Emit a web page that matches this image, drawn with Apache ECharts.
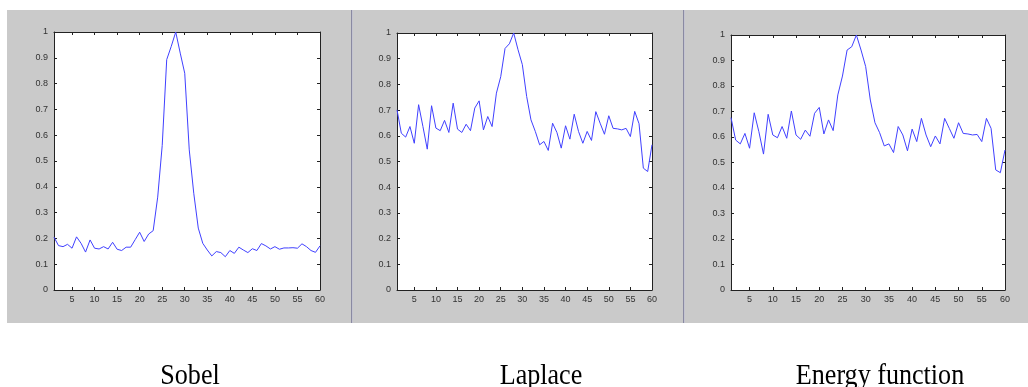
<!DOCTYPE html>
<html>
<head>
<meta charset="utf-8">
<script src="https://cdn.jsdelivr.net/npm/echarts@6/dist/echarts.min.js"></script>
<style>
html,body{margin:0;padding:0;background:#fff;}
#c{width:1028px;height:387px;}
</style>
</head>
<body>
<div id="c"></div>
<script>
var titles = ['Sobel', 'Laplace', 'Energy function'];
var xTicks = [5,10,15,20,25,30,35,40,45,50,55,60];
var sobel = [0.205,0.172,0.168,0.177,0.162,0.206,0.181,0.147,0.194,0.162,
  0.159,0.168,0.159,0.185,0.158,0.153,0.166,0.166,0.195,0.224,
  0.188,0.217,0.23,0.36,0.56,0.893,0.944,1.0,0.918,0.84,
  0.543,0.375,0.24,0.181,0.155,0.132,0.149,0.145,0.129,0.153,
  0.142,0.166,0.155,0.145,0.16,0.153,0.18,0.171,0.159,0.168,
  0.158,0.163,0.163,0.164,0.162,0.179,0.168,0.153,0.146,0.171];
var laplace = [0.701,0.61,0.595,0.636,0.571,0.721,0.636,0.548,0.717,0.63,
  0.62,0.66,0.613,0.727,0.626,0.613,0.645,0.62,0.708,0.736,
  0.623,0.675,0.636,0.766,0.83,0.94,0.958,1.0,0.935,0.877,
  0.753,0.662,0.617,0.565,0.578,0.543,0.649,0.613,0.552,0.639,
  0.587,0.684,0.617,0.571,0.617,0.582,0.694,0.649,0.606,0.678,
  0.629,0.627,0.623,0.629,0.597,0.695,0.647,0.474,0.461,0.565];
var energy = [0.676,0.588,0.573,0.614,0.556,0.695,0.621,0.533,0.689,0.608,
  0.597,0.641,0.595,0.702,0.608,0.591,0.627,0.603,0.693,0.716,
  0.612,0.667,0.625,0.765,0.839,0.941,0.954,1.0,0.941,0.876,
  0.745,0.656,0.617,0.565,0.573,0.539,0.641,0.608,0.546,0.631,
  0.582,0.673,0.608,0.562,0.604,0.573,0.673,0.634,0.595,0.656,
  0.614,0.612,0.608,0.61,0.582,0.673,0.634,0.471,0.46,0.549];

var seriesData = [sobel, laplace, energy];
var grids = [
  {left:54, top:32, right:708, bottom:97},
  {left:397, top:33, right:376, bottom:97},
  {left:731, top:35, right:23, bottom:97}
];
var panels = [
  {x:7, w:344},
  {x:353, w:330},
  {x:685, w:343}
];
var captionX = [190, 541, 880];

var chart = echarts.init(document.getElementById('c'), null, {renderer:'canvas'});
var lineCol = '#222';
var labelStyle = {color:'#333', fontSize:9, fontFamily:'Liberation Sans, Arial, sans-serif'};
var xAxes = [], yAxes = [], series = [], graphics = [];

panels.forEach(function(p){
  graphics.push({type:'rect', z:-10, shape:{x:p.x, y:10, width:p.w, height:313}, style:{fill:'#cacaca'}});
});
graphics.push({type:'rect', z:-9, shape:{x:351, y:10, width:1.5, height:313}, style:{fill:'#8a8aa2'}});
graphics.push({type:'rect', z:-9, shape:{x:683, y:10, width:1.5, height:313}, style:{fill:'#8a8aa2'}});
grids.forEach(function(g){
  graphics.push({type:'rect', z:-8, shape:{x:g.left, y:g.top, width:1028-g.left-g.right, height:387-g.top-g.bottom}, style:{fill:'#ffffff'}});
});
titles.forEach(function(t, i){
  graphics.push({type:'text', x:captionX[i], y:376, scaleX:0.9, originX:0, originY:0,
    style:{text:t, fill:'#000', fontSize:29, fontFamily:'Liberation Serif, Times New Roman, serif', align:'center', verticalAlign:'middle'}});
});

var xCats = [];
for (var k = 1; k <= 60; k++) xCats.push(k);

grids.forEach(function(g, i){
  xAxes.push({type:'value', gridIndex:i, min:1, max:60, position:'bottom',
    axisLine:{show:true, lineStyle:{color:lineCol, width:1}},
    axisTick:{show:true, inside:true, length:3, customValues:xTicks, lineStyle:{color:lineCol}},
    axisLabel:{show:true, margin:5, customValues:xTicks, color:labelStyle.color, fontSize:labelStyle.fontSize, fontFamily:labelStyle.fontFamily},
    splitLine:{show:false}});
  xAxes.push({type:'value', gridIndex:i, min:1, max:60, position:'top',
    axisLine:{show:true, onZero:false, lineStyle:{color:lineCol, width:1}},
    axisTick:{show:true, inside:true, length:3, customValues:xTicks, lineStyle:{color:lineCol}},
    axisLabel:{show:false}, splitLine:{show:false}});
  yAxes.push({type:'value', gridIndex:i, min:0, max:1, interval:0.1, position:'left',
    axisLine:{show:true, lineStyle:{color:lineCol, width:1}},
    axisTick:{show:true, inside:true, length:3, lineStyle:{color:lineCol}},
    axisLabel:{show:true, margin:6, color:labelStyle.color, fontSize:labelStyle.fontSize, fontFamily:labelStyle.fontFamily},
    splitLine:{show:false}});
  yAxes.push({type:'value', gridIndex:i, min:0, max:1, interval:0.1, position:'right',
    axisLine:{show:true, onZero:false, lineStyle:{color:lineCol, width:1}},
    axisTick:{show:true, inside:true, length:3, lineStyle:{color:lineCol}},
    axisLabel:{show:false}, splitLine:{show:false}});
  series.push({type:'line', xAxisIndex:i*2, yAxisIndex:i*2, showSymbol:false, symbol:'none',
    data: seriesData[i].map(function(v, j){ return [xCats[j], v]; }),
    lineStyle:{color:'#4040ff', width:1}, animation:false, silent:true});
});

chart.setOption({
  animation:false,
  backgroundColor:'#ffffff',
  grid: grids.map(function(g){ return {left:g.left, top:g.top, right:g.right, bottom:g.bottom, containLabel:false}; }),
  xAxis: xAxes,
  yAxis: yAxes,
  series: series,
  graphic: graphics
});
</script>
</body>
</html>
